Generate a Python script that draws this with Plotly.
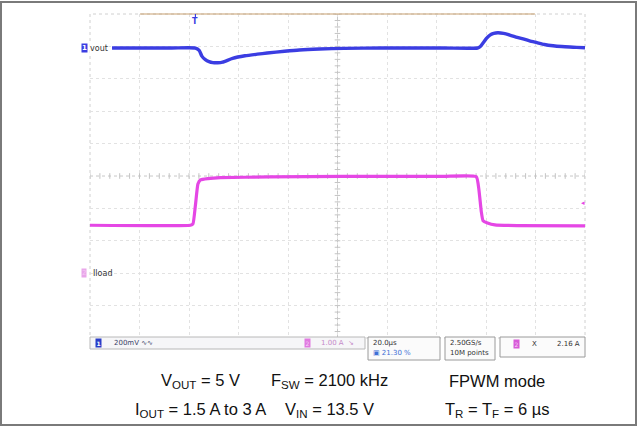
import plotly.graph_objects as go

# ---- scope capture: load-transient response ----
# time in microseconds (trigger at t = 0, 20 us/div)
vout_t = [-33.7, -10, 0, 1.5, 2.6, 4, 5.5, 7, 9, 11, 15, 20, 25, 29, 36, 42, 50, 60, 75, 100,
          114, 115, 116.2, 117.5, 119, 120.5, 122.2, 124.5, 127, 130, 132.4, 135, 138, 141,
          144.5, 148, 151.3, 154, 157.4]
# Vout AC deviation in mV (200 mV/div)
vout_mv = [0, 0, 0, -14, -50, -72, -84, -90, -91, -87, -64, -48, -38, -31, -20, -12, -6, -2, 0, 0,
           0, 8, 31, 58, 80, 90, 94, 90, 80, 66, 56, 44, 33, 22,
           14, 9, 6, 4, 2]

iload_t = [-42.6, -2, -1, 0, 1, 2, 5, 10, 30, 60, 100, 113.5, 114.5, 115.5, 116.2, 118, 121, 130, 157.4]
# load current in A (1 A/div)
iload_a = [1.48, 1.48, 1.52, 2.1, 2.75, 2.88, 2.92, 2.95, 2.97, 2.99, 2.99, 2.98, 2.6, 1.9, 1.62,
           1.55, 1.49, 1.47, 1.46]

trig_level_a = 2.16
horiz_pos_pct = 21.30
time_per_div_us = 20.0
vout_scale_mv = 200.0
iload_scale_a = 1.0
vout_pos_div = 3.95
iload_pos_div = -3.0

caption_row1 = ["V<sub>OUT</sub> = 5 V", "F<sub>SW</sub> = 2100 kHz", "FPWM mode"]
caption_row2 = ["I<sub>OUT</sub> = 1.5 A to 3 A", "V<sub>IN</sub> = 13.5 V", "T<sub>R</sub> = T<sub>F</sub> = 6 µs"]

W, H = 637, 426
BLUE = "#3b3de2"
MAG = "#e547e5"


def px(x):
    return x / W


def py(y):
    return 1 - y / H


# screen extents (10 x 10 divisions)
t0 = -horiz_pos_pct / 100 * 10 * time_per_div_us
t1 = t0 + 10 * time_per_div_us
scr_l, scr_r, scr_t, scr_b = 90, 585, 14, 338

fig = go.Figure()
fig.add_trace(go.Scatter(x=vout_t, y=vout_mv, mode="lines", yaxis="y2",
                         line=dict(color=BLUE, width=3.4, shape="spline", smoothing=0.6),
                         hoverinfo="skip", showlegend=False))
fig.add_trace(go.Scatter(x=iload_t, y=iload_a, mode="lines", yaxis="y3",
                         line=dict(color=MAG, width=3.2, shape="spline", smoothing=0.4),
                         hoverinfo="skip", showlegend=False))

grid = dict(showgrid=True, gridcolor="#e2e2e2", griddash="dot", gridwidth=1,
            zeroline=False, showticklabels=False, ticks="", showline=False)
dom_x = [px(scr_l), px(scr_r)]
dom_y = [py(scr_b), py(scr_t)]

fig.update_layout(
    width=W, height=H, margin=dict(l=0, r=0, t=0, b=0),
    paper_bgcolor="white", plot_bgcolor="white",
    xaxis=dict(range=[t0, t1], domain=dom_x, tick0=t0, dtick=time_per_div_us, **grid),
    yaxis=dict(range=[-5, 5], domain=dom_y, tick0=-5, dtick=1, **grid),
    yaxis2=dict(range=[(-5 - vout_pos_div) * vout_scale_mv, (5 - vout_pos_div) * vout_scale_mv],
                overlaying="y", showgrid=False, zeroline=False, showticklabels=False, visible=False),
    yaxis3=dict(range=[(-5 - iload_pos_div) * iload_scale_a, (5 - iload_pos_div) * iload_scale_a],
                overlaying="y", showgrid=False, zeroline=False, showticklabels=False, visible=False),
    font=dict(family="Liberation Sans, Arial"),
)

shapes = []
# screen border
shapes.append(dict(type="rect", xref="x domain", yref="y domain", x0=0, x1=1, y0=0, y1=1,
                   line=dict(color="#d0d0d0", width=1, dash="dot"), layer="below"))
# centre graticule lines
shapes.append(dict(type="line", xref="x", yref="y domain", x0=0.5 * (t0 + t1), x1=0.5 * (t0 + t1),
                   y0=0, y1=1, line=dict(color="#c8c8c8", width=1, dash="dot"), layer="below"))
shapes.append(dict(type="line", xref="x domain", yref="y", x0=0, x1=1, y0=0, y1=0,
                   line=dict(color="#c8c8c8", width=1, dash="dot"), layer="below"))
# record indicator along the top edge
shapes.append(dict(type="line", xref="paper", yref="paper", x0=px(140), x1=px(535), y0=py(14), y1=py(14),
                   line=dict(color="#c8a070", width=1.2)))
# trigger-position pointer stem
shapes.append(dict(type="line", xref="x", yref="paper", x0=0, x1=0, y0=py(14), y1=py(17.5),
                   line=dict(color=BLUE, width=1.2)))
# status bar and readout boxes
shapes.append(dict(type="rect", xref="paper", yref="paper", x0=px(90), x1=px(365), y0=py(349), y1=py(337),
                   fillcolor="#f6f6f8", line=dict(color="#b8b8b8", width=1)))
for x0, x1, y1 in [(368, 440, 360), (445, 495, 360), (500, 585, 357)]:
    shapes.append(dict(type="rect", xref="paper", yref="paper", x0=px(x0), x1=px(x1), y0=py(y1), y1=py(337),
                       fillcolor="#fbfbfb", line=dict(color="#9a9a9a", width=1)))
# outer frame
shapes.append(dict(type="rect", xref="paper", yref="paper", x0=px(1), x1=px(636), y0=py(425), y1=py(2),
                   line=dict(color="#7a7a7a", width=2)))
fig.update_layout(shapes=shapes)

# graticule ticks on the centre lines
xc = 0.5 * (t0 + t1)
tick_t = [t0 + i * time_per_div_us / 5 for i in range(51)]
tick_d = [-5 + i / 5 for i in range(51)]
fig.add_trace(go.Scatter(x=tick_t, y=[0] * len(tick_t), mode="markers", hoverinfo="skip", showlegend=False,
                         marker=dict(symbol="line-ns", size=4, line=dict(color="#c4c4c4", width=1))))
fig.add_trace(go.Scatter(x=[xc] * len(tick_d), y=tick_d, mode="markers", hoverinfo="skip", showlegend=False,
                         marker=dict(symbol="line-ew", size=4, line=dict(color="#c4c4c4", width=1))))

ann = []
small = dict(family="DejaVu Sans", size=7)
# channel labels
ann.append(dict(xref="paper", yref="y2", x=px(84), y=0, text="<b>1</b>", showarrow=False,
                font=dict(family="DejaVu Sans", size=7, color="white"), bgcolor=BLUE, borderpad=0,
                xanchor="center", yanchor="middle"))
ann.append(dict(xref="paper", yref="y2", x=px(89), y=0, text="vout", showarrow=False,
                font=dict(family="DejaVu Sans", size=8, color="#333"), bgcolor="white", borderpad=0,
                xanchor="left", yanchor="middle"))
ann.append(dict(xref="paper", yref="y3", x=px(84), y=0, text="2", showarrow=False,
                font=dict(family="DejaVu Sans", size=7, color="#f4c8f4"), bgcolor="#e9a6ea", borderpad=0,
                xanchor="center", yanchor="middle"))
ann.append(dict(xref="paper", yref="y3", x=px(91), y=0, text="Iload", showarrow=False,
                font=dict(family="DejaVu Sans", size=8, color="#333"),
                xanchor="left", yanchor="middle"))
# trigger position and level markers
ann.append(dict(xref="x", yref="paper", x=0, y=py(21.5), text="<b>T</b>", showarrow=False,
                font=dict(family="DejaVu Sans", size=8, color=BLUE), xanchor="center", yanchor="middle"))
ann.append(dict(xref="paper", yref="y3", x=px(583), y=trig_level_a, text="◂", showarrow=False,
                font=dict(family="DejaVu Sans", size=7, color=MAG), xanchor="center", yanchor="middle"))
# status bar readouts
ann.append(dict(xref="paper", yref="paper", x=px(98), y=py(343), text="<b>1</b>", showarrow=False,
                font=dict(family="DejaVu Sans", size=6, color="white"), bgcolor="#2a3dc8", borderpad=0.5,
                xanchor="center", yanchor="middle"))
ann.append(dict(xref="paper", yref="paper", x=px(112), y=py(343), text="200mV ∿∿", showarrow=False,
                font=dict(small, color="#3a3f66"), xanchor="left", yanchor="middle"))
ann.append(dict(xref="paper", yref="paper", x=px(307), y=py(343), text="2", showarrow=False,
                font=dict(family="DejaVu Sans", size=6, color="#f6d4f6"), bgcolor="#e07ae0", borderpad=0.5,
                xanchor="center", yanchor="middle"))
ann.append(dict(xref="paper", yref="paper", x=px(319), y=py(343), text="1.00 A  ↘", showarrow=False,
                font=dict(small, color="#c58ac8"), xanchor="left", yanchor="middle"))
ann.append(dict(xref="paper", yref="paper", x=px(371), y=py(343), text=f"{time_per_div_us:.1f}µs",
                showarrow=False, font=dict(small, color="#333"), xanchor="left", yanchor="middle"))
ann.append(dict(xref="paper", yref="paper", x=px(371), y=py(353), text=f"▣ {horiz_pos_pct:.2f} %",
                showarrow=False, font=dict(small, color="#3d6fd6"), xanchor="left", yanchor="middle"))
ann.append(dict(xref="paper", yref="paper", x=px(448), y=py(343), text="2.50GS/s", showarrow=False,
                font=dict(small, color="#333"), xanchor="left", yanchor="middle"))
ann.append(dict(xref="paper", yref="paper", x=px(448), y=py(353), text="10M points", showarrow=False,
                font=dict(small, color="#333"), xanchor="left", yanchor="middle"))
ann.append(dict(xref="paper", yref="paper", x=px(516), y=py(344), text="2", showarrow=False,
                font=dict(family="DejaVu Sans", size=6, color="#f6d4f6"), bgcolor="#d85ad8", borderpad=0.5,
                xanchor="center", yanchor="middle"))
ann.append(dict(xref="paper", yref="paper", x=px(530), y=py(344), text="X", showarrow=False,
                font=dict(small, color="#333"), xanchor="left", yanchor="middle"))
ann.append(dict(xref="paper", yref="paper", x=px(582), y=py(344), text=f"{trig_level_a:.2f} A",
                showarrow=False, font=dict(small, color="#333"), xanchor="right", yanchor="middle"))

# test-condition caption
cap_font = dict(family="Liberation Sans, Arial", size=16.5, color="#111")
for row, yc in [(caption_row1, 381), (caption_row2, 410)]:
    for txt, xc_px in zip(row, [200, 329, 497]):
        ann.append(dict(xref="paper", yref="paper", x=px(xc_px), y=py(yc), text=txt, showarrow=False,
                        font=cap_font, xanchor="center", yanchor="middle"))

fig.update_layout(annotations=ann)
fig.write_html("out.html")
